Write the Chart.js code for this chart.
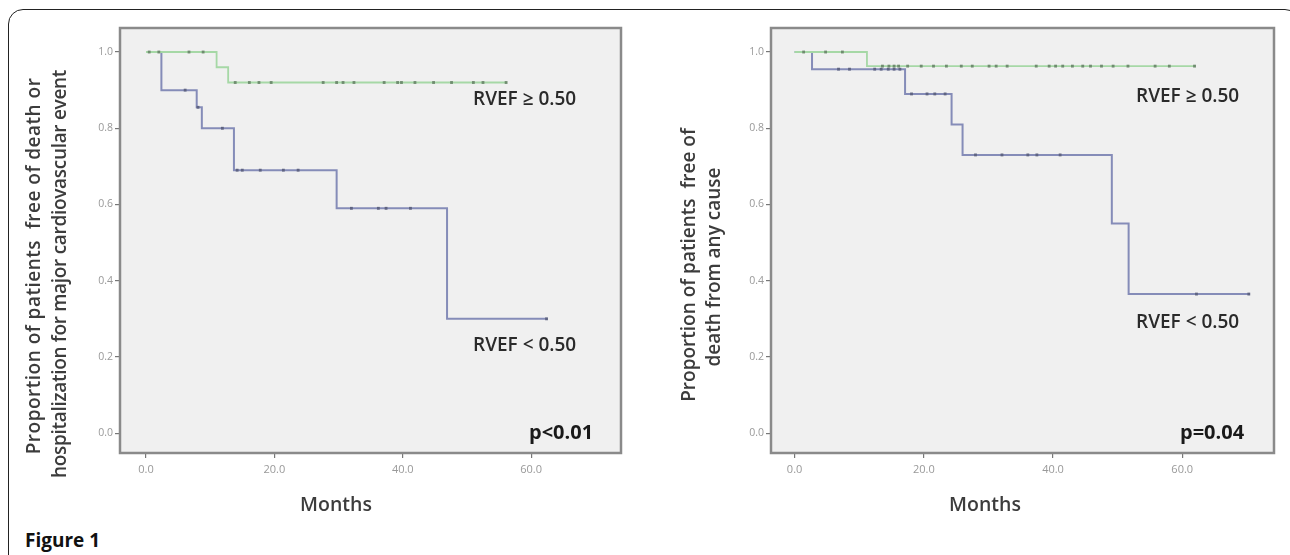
<!DOCTYPE html>
<html>
<head>
<meta charset="utf-8">
<script src="https://cdn.jsdelivr.net/npm/chart.js@4.4.1/dist/chart.umd.min.js"></script>
<style>
html,body{margin:0;padding:0;background:#fff;}
body{width:1290px;height:555px;position:relative;overflow:hidden;font-family:'Open Sans',sans-serif;}
#frame{position:absolute;left:8px;top:9px;width:1292px;height:620px;border:1.5px solid #222;border-radius:15px 15px 0 0;box-sizing:border-box;}
#fig{position:absolute;left:25px;top:528px;font:700 19px 'Open Sans',sans-serif;color:#111;line-height:24px;}
canvas{position:absolute;top:0;}
#c1{left:0;}
#c2{left:640px;}
</style>
</head>
<body>
<div id="frame"></div>
<div id="fig">Figure 1</div>
<canvas id="c1" width="640" height="555"></canvas>
<canvas id="c2" width="650" height="555"></canvas>
<script>
// ---- shared tick values ----
const xTicks = [0, 20, 40, 60];
const yTicks = [0, 0.2, 0.4, 0.6, 0.8, 1.0];

// ---- Left panel: free of death or hospitalization for major cardiovascular event ----
const leftHighTimes  = [0, 11.0, 12.8, 56.1];
const leftHighSurv   = [1.0, 0.96, 0.92, 0.92];
const leftHighCensor = [0.5, 2.0, 6.7, 8.9, 13.9, 16.1, 17.6, 19.5, 27.6, 29.7, 30.7, 32.4, 37.1, 39.2, 39.8, 41.9, 44.8, 47.6, 51.0, 52.5, 56.1];
const leftLowTimes   = [0, 2.4, 7.9, 8.7, 13.7, 29.7, 46.9, 62.4];
const leftLowSurv    = [1.0, 0.90, 0.855, 0.80, 0.69, 0.59, 0.30, 0.30];
const leftLowCensor  = [6.1, 8.1, 11.9, 14.2, 15.0, 17.8, 21.4, 23.7, 32.0, 36.2, 37.4, 41.2, 62.4];

// ---- Right panel: free of death from any cause ----
const rightHighTimes  = [0, 11.2, 61.9];
const rightHighSurv   = [1.0, 0.963, 0.963];
const rightHighCensor = [1.4, 4.8, 7.4, 13.6, 14.6, 15.4, 16.1, 17.5, 19.6, 21.5, 23.5, 25.8, 27.5, 30.1, 31.2, 32.9, 37.4, 39.4, 40.4, 41.5, 43.0, 44.6, 45.8, 47.5, 49.3, 51.6, 55.8, 58.0, 61.9];
const rightLowTimes   = [0, 2.7, 17.1, 24.3, 26.0, 49.1, 51.7, 70.3];
const rightLowSurv    = [1.0, 0.955, 0.89, 0.81, 0.73, 0.55, 0.365, 0.365];
const rightLowCensor  = [6.8, 8.5, 12.4, 13.4, 14.5, 15.4, 16.3, 18.1, 20.5, 21.7, 23.3, 28.0, 32.1, 36.1, 37.5, 41.1, 62.2, 70.3];

// ---- text ----
const leftYTitle  = ['Proportion of patients  free of death or', 'hospitalization for major cardiovascular event'];
const rightYTitle = ['Proportion of patients  free of', 'death from any cause'];
const xTitle = 'Months';
const labelHigh = 'RVEF \u2265 0.50';
const labelLow  = 'RVEF < 0.50';
const leftP  = 'p<0.01';
const rightP = 'p=0.04';

// ---- helpers ----
function stepPoints(times, surv) {
  return times.map((t, i) => ({ x: t, y: surv[i] }));
}
function survAt(times, surv, t) {
  let v = surv[0];
  for (let i = 0; i < times.length; i++) if (times[i] <= t) v = surv[i];
  return v;
}
function censorPoints(censor, times, surv) {
  return censor.map(t => ({ x: t, y: survAt(times, surv, t) }));
}

const GREEN = '#a6d8a6';
const BLUE = '#858cb8';
const GREEN_MARK = '#6f8c6f';
const BLUE_MARK = '#5f6482';

const panelPlugin = {
  id: 'panel',
  beforeDraw(chart) {
    const { ctx, chartArea: a } = chart;
    ctx.save();
    ctx.fillStyle = '#f0f0f0';
    ctx.fillRect(a.left, a.top, a.right - a.left, a.bottom - a.top);
    ctx.restore();
  },
  afterDraw(chart, args, opts) {
    const { ctx, chartArea: a } = chart;
    ctx.save();
    ctx.strokeStyle = '#8a8a8a';
    ctx.lineWidth = 2.5;
    ctx.strokeRect(a.left, a.top, a.right - a.left, a.bottom - a.top);
    (opts.texts || []).forEach(t => {
      ctx.save();
      ctx.font = t.font;
      ctx.fillStyle = t.color;
      ctx.textAlign = t.align || 'left';
      ctx.textBaseline = 'middle';
      if (t.spacing) ctx.letterSpacing = t.spacing;
      ctx.translate(t.x, t.y);
      if (t.rotate) ctx.rotate(t.rotate);
      ctx.fillText(t.text, 0, 0);
      ctx.restore();
    });
    ctx.restore();
  }
};

function makeChart(id, p) {
  return new Chart(document.getElementById(id), {
    type: 'scatter',
    data: {
      datasets: [
        { type: 'line', data: stepPoints(p.lowT, p.lowS), stepped: true, borderColor: BLUE, borderWidth: 2, pointRadius: 0, fill: false, order: 3 },
        { type: 'line', data: stepPoints(p.highT, p.highS), stepped: true, borderColor: GREEN, borderWidth: 1.8, pointRadius: 0, fill: false, order: 2 },
        { data: censorPoints(p.lowC, p.lowT, p.lowS), showLine: false, pointStyle: 'rect', pointRadius: 2, backgroundColor: BLUE_MARK, borderWidth: 0, order: 1 },
        { data: censorPoints(p.highC, p.highT, p.highS), showLine: false, pointStyle: 'rect', pointRadius: 2, backgroundColor: GREEN_MARK, borderWidth: 0, order: 0 }
      ]
    },
    options: {
      responsive: false,
      animation: false,
      events: [],
      layout: { padding: { left: p.padLeft, right: p.padRight, top: 28, bottom: 72 } },
      plugins: {
        legend: { display: false },
        tooltip: { enabled: false },
        panel: { texts: p.texts }
      },
      scales: {
        x: {
          type: 'linear', min: p.xMin, max: p.xMax,
          afterBuildTicks: s => { s.ticks = xTicks.map(v => ({ value: v })); },
          afterFit: s => { s.height = 30; },
          ticks: { callback: v => Number(v).toFixed(1), font: { size: 11, family: 'Open Sans' }, color: '#999', padding: 5, maxRotation: 0, autoSkip: false },
          grid: { drawOnChartArea: false, drawTicks: true, tickLength: 5, color: '#777', lineWidth: 1.2 },
          border: { display: false }
        },
        y: {
          type: 'linear', min: -0.052, max: 1.063,
          afterBuildTicks: s => { s.ticks = yTicks.map(v => ({ value: v })); },
          afterFit: s => { s.width = 30; },
          ticks: { callback: v => Number(v).toFixed(1), font: { size: 10.5, family: 'Open Sans' }, color: '#999', padding: 2, autoSkip: false },
          grid: { drawOnChartArea: false, drawTicks: true, tickLength: 5, color: '#777', lineWidth: 1.2 },
          border: { display: false }
        }
      }
    },
    plugins: [panelPlugin]
  });
}

const titleFont = '600 19px "Open Sans"';
const labelFont = '600 19px "Open Sans"';
const pFont = '700 20px "Open Sans"';
const monthsFont = '600 19.5px "Open Sans"';
const TXT = '#3c3c3c';

makeChart('c1', {
  highT: leftHighTimes, highS: leftHighSurv, highC: leftHighCensor,
  lowT: leftLowTimes, lowS: leftLowSurv, lowC: leftLowCensor,
  xMin: -4.05, xMax: 74, padLeft: 90, padRight: 19,
  texts: [
    { text: leftYTitle[0], x: 35, y: 266, rotate: -Math.PI / 2, align: 'center', font: titleFont, color: TXT, spacing: '0.5px' },
    { text: leftYTitle[1], x: 61, y: 274, rotate: -Math.PI / 2, align: 'center', font: titleFont, color: TXT, spacing: '-0.3px' },
    { text: xTitle, x: 336, y: 505, align: 'center', font: monthsFont, color: TXT },
    { text: labelHigh, x: 473, y: 100, font: labelFont, color: '#2a2a2a' },
    { text: labelLow, x: 473, y: 346, font: labelFont, color: '#2a2a2a' },
    { text: leftP, x: 529, y: 433, font: pFont, color: '#1a1a1a' }
  ]
});

makeChart('c2', {
  highT: rightHighTimes, highS: rightHighSurv, highC: rightHighCensor,
  lowT: rightLowTimes, lowS: rightLowSurv, lowC: rightLowCensor,
  xMin: -3.65, xMax: 74.2, padLeft: 101, padRight: 16,
  texts: [
    { text: rightYTitle[0], x: 50, y: 265, rotate: -Math.PI / 2, align: 'center', font: titleFont, color: TXT },
    { text: rightYTitle[1], x: 75, y: 267, rotate: -Math.PI / 2, align: 'center', font: titleFont, color: TXT },
    { text: xTitle, x: 345, y: 505, align: 'center', font: monthsFont, color: TXT },
    { text: labelHigh, x: 496, y: 97, font: labelFont, color: '#2a2a2a' },
    { text: labelLow, x: 496, y: 323, font: labelFont, color: '#2a2a2a' },
    { text: rightP, x: 540, y: 433, font: pFont, color: '#1a1a1a' }
  ]
});
</script>
</body>
</html>
